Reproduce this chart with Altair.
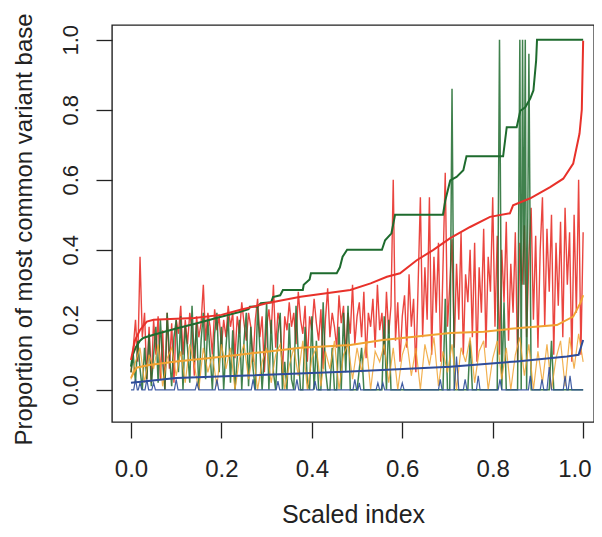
import altair as alt
import pandas as pd

# ---------------- data ----------------
# noisy red series (step 0.005)
red_noise_y = [
    0.05, 0.12, 0.20, 0.08, 0.38, 0.15, 0.22, 0.03, 0.18, 0.02, 0.20,
    0.10, 0.21, 0.03, 0.17, 0.00, 0.22, 0.06, 0.19, 0.02, 0.20,
    0.16, 0.24, 0.10, 0.20, 0.13, 0.22, 0.17, 0.04, 0.21, 0.15,
    0.19, 0.30, 0.14, 0.22, 0.18, 0.10, 0.23, 0.17, 0.21, 0.12,
    0.20, 0.15, 0.24, 0.18, 0.22, 0.09, 0.21, 0.16, 0.25, 0.19,
    0.14, 0.22, 0.18, 0.08, 0.20, 0.26, 0.15, 0.21, 0.05, 0.18,
    0.23, 0.16, 0.30, 0.12, 0.22, 0.19, 0.04, 0.21, 0.17, 0.25,
    0.18, 0.22, 0.13, 0.28, 0.20, 0.16, 0.24, 0.08, 0.21, 0.17,
    0.26, 0.19, 0.14, 0.23, 0.06, 0.20, 0.29, 0.15, 0.22, 0.18,
    0.12, 0.27, 0.19, 0.24, 0.10, 0.22, 0.16, 0.30, 0.13, 0.21,
    0.25, 0.15, 0.28, 0.09, 0.22, 0.18, 0.26, 0.12, 0.30, 0.17,
    0.22, 0.10, 0.28, 0.16, 0.24, 0.60, 0.14, 0.25, 0.08, 0.21,
    0.27, 0.12, 0.33, 0.18, 0.26, 0.05, 0.30, 0.55, 0.15, 0.35,
    0.20, 0.55, 0.10, 0.38, 0.22, 0.42, 0.08, 0.35, 0.62, 0.18,
    0.30, 0.43, 0.12, 0.36, 0.20, 0.45, 0.10, 0.33, 0.25, 0.40,
    0.15, 0.42, 0.08, 0.35, 0.22, 0.46, 0.12, 0.38, 0.28, 0.55,
    0.18, 0.44, 0.10, 0.40, 0.25, 0.48, 0.14, 0.36, 0.22, 0.45,
    0.08, 0.42, 0.30, 0.47, 0.15, 0.38, 0.52, 0.20, 0.44, 0.12,
    0.40, 0.55, 0.18, 0.46, 0.28, 0.50, 0.10, 0.42, 0.24, 0.48,
    0.15, 0.52, 0.30, 0.45, 0.08, 0.50, 0.22, 0.60, 0.10, 0.45,
]
red_noise_x = [round(i * 0.005, 3) for i in range(len(red_noise_y))]

# noisy green series: dense on the left, isolated spikes on the right
green_dense_y = [
    0.05, 0.10, 0.02, 0.14, 0.06, 0.00, 0.12, 0.03, 0.16, 0.01, 0.10,
    0.18, 0.02, 0.20, 0.08, 0.00, 0.22, 0.10, 0.01, 0.15, 0.20,
    0.05, 0.21, 0.00, 0.18, 0.12, 0.02, 0.24, 0.08, 0.19, 0.00,
    0.14, 0.22, 0.03, 0.20, 0.10, 0.00, 0.16, 0.22, 0.05, 0.18,
    0.00, 0.12, 0.21, 0.02, 0.17, 0.00, 0.09, 0.20, 0.00, 0.14,
    0.22, 0.01, 0.18, 0.06, 0.00, 0.24, 0.12, 0.00, 0.10, 0.25,
    0.00, 0.20, 0.05, 0.00, 0.16, 0.22, 0.00, 0.08, 0.00, 0.19,
    0.03, 0.00, 0.24, 0.10, 0.00, 0.00, 0.18, 0.02, 0.00, 0.21,
    0.00, 0.14, 0.00, 0.00, 0.25, 0.06, 0.00, 0.00, 0.12, 0.00,
]
green_dense_x = [round(i * 0.005, 3) for i in range(len(green_dense_y))]
green_spike_x = [0.455, 0.46, 0.465, 0.47, 0.475, 0.48, 0.485, 0.50, 0.51, 0.515,
                 0.555, 0.56, 0.565, 0.57, 0.575, 0.69, 0.695, 0.70, 0.705, 0.71,
                 0.715, 0.745, 0.75, 0.755, 0.81, 0.815, 0.82, 0.825, 0.83, 0.855,
                 0.86, 0.863, 0.866, 0.869, 0.872, 0.875, 0.88, 0.885, 0.925, 0.93,
                 0.935, 1.0]
green_spike_y = [0.00, 0.18, 0.00, 0.22, 0.05, 0.24, 0.00, 0.00, 0.12, 0.00,
                 0.00, 0.21, 0.00, 0.20, 0.00, 0.00, 0.26, 0.00, 0.00, 0.86,
                 0.00, 0.00, 0.14, 0.00, 0.00, 1.00, 0.00, 0.25, 0.00, 0.00,
                 1.00, 0.00, 1.00, 0.30, 1.00, 0.00, 0.96, 0.00, 0.00, 0.14,
                 0.00, 0.00]
green_noise_x = green_dense_x + green_spike_x
green_noise_y = green_dense_y + green_spike_y

# noisy orange series (step 0.01)
orange_noise_y = [
    0.03, 0.08, 0.12, 0.02, 0.10, 0.06, 0.13, 0.01, 0.09, 0.12, 0.04,
    0.11, 0.02, 0.13, 0.07, 0.00, 0.12, 0.05, 0.10, 0.01, 0.13,
    0.06, 0.12, 0.00, 0.09, 0.13, 0.03, 0.11, 0.00, 0.08, 0.12,
    0.02, 0.10, 0.13, 0.00, 0.07, 0.12, 0.04, 0.14, 0.00, 0.09,
    0.12, 0.01, 0.11, 0.06, 0.14, 0.00, 0.10, 0.13, 0.03, 0.12,
    0.05, 0.14, 0.00, 0.11, 0.08, 0.13, 0.02, 0.12, 0.00, 0.10,
    0.14, 0.04, 0.12, 0.00, 0.13, 0.07, 0.15, 0.01, 0.11, 0.05,
    0.13, 0.00, 0.12, 0.08, 0.15, 0.02, 0.11, 0.14, 0.00, 0.09,
    0.14, 0.03, 0.12, 0.00, 0.10, 0.15, 0.04, 0.13, 0.00, 0.11,
    0.02, 0.13, 0.00, 0.09, 0.14, 0.01, 0.15, 0.06, 0.16, 0.08,
]
orange_noise_x = [round(i * 0.01, 3) for i in range(len(orange_noise_y))]

# noisy blue series: zero with small spikes
blue_noise_x = [0.0, 0.006, 0.01, 0.014, 0.016, 0.02, 0.024, 0.031, 0.035, 0.039,
                0.046, 0.05, 0.054, 0.096, 0.10, 0.104, 0.142, 0.146, 0.15, 0.186,
                0.19, 0.194, 0.266, 0.27, 0.274, 0.321, 0.325, 0.329, 0.363, 0.367,
                0.371, 0.403, 0.407, 0.411, 0.491, 0.495, 0.499, 0.502, 0.505, 0.508,
                0.542, 0.546, 0.55, 0.553, 0.557, 0.561, 0.596, 0.60, 0.604, 0.68,
                0.684, 0.688, 0.715, 0.72, 0.725, 0.735, 0.739, 0.743, 0.764, 0.768,
                0.772, 0.812, 0.816, 0.82, 0.879, 0.883, 0.887, 0.905, 0.909, 0.913,
                0.92, 0.925, 0.93, 0.956, 0.96, 0.964, 0.967, 0.971, 0.975, 1.0]
blue_noise_y = [0.0, 0.0, 0.03, 0.0, 0.0, 0.02, 0.0, 0.0, 0.03, 0.0,
                0.0, 0.02, 0.0, 0.0, 0.03, 0.0, 0.0, 0.02, 0.0, 0.0,
                0.03, 0.0, 0.0, 0.03, 0.0, 0.0, 0.025, 0.0, 0.0, 0.03,
                0.0, 0.0, 0.025, 0.0, 0.0, 0.03, 0.0, 0.0, 0.02, 0.0,
                0.0, 0.02, 0.0, 0.0, 0.02, 0.0, 0.0, 0.02, 0.0, 0.0,
                0.03, 0.0, 0.0, 0.095, 0.0, 0.0, 0.03, 0.0, 0.0, 0.04,
                0.0, 0.0, 0.03, 0.0, 0.0, 0.04, 0.0, 0.0, 0.03, 0.0,
                0.0, 0.065, 0.0, 0.0, 0.04, 0.0, 0.0, 0.04, 0.0, 0.0]

# smooth (sorted) curves
green_line_x = [0.0, 0.004, 0.01, 0.02, 0.027, 0.05, 0.10, 0.146, 0.197, 0.24, 0.26, 0.263,
                0.28, 0.287, 0.31, 0.314, 0.33, 0.336, 0.38, 0.382, 0.395, 0.398, 0.455,
                0.462, 0.468, 0.478, 0.555, 0.562, 0.576, 0.584, 0.69, 0.695, 0.706,
                0.72, 0.735, 0.742, 0.823, 0.831, 0.853, 0.861, 0.872, 0.883, 0.89,
                0.896, 0.898, 1.0]
green_line_y = [0.066, 0.10, 0.12, 0.14, 0.148, 0.157, 0.175, 0.19, 0.208, 0.222, 0.23, 0.237,
                0.238, 0.247, 0.25, 0.265, 0.27, 0.285, 0.285, 0.30, 0.315, 0.333, 0.333,
                0.35, 0.38, 0.40, 0.40, 0.427, 0.447, 0.50, 0.50, 0.54, 0.598,
                0.608, 0.627, 0.667, 0.667, 0.75, 0.75, 0.797, 0.807, 0.832, 0.855,
                0.94, 1.0, 1.0]
red_line_x = [0.0, 0.009, 0.02, 0.035, 0.05, 0.10, 0.14, 0.2, 0.24, 0.3, 0.375, 0.485, 0.53,
              0.566, 0.595, 0.632, 0.668, 0.706, 0.75, 0.794, 0.838, 0.845, 0.883, 0.927,
              0.956, 0.978, 0.992, 0.997, 1.0]
red_line_y = [0.085, 0.142, 0.171, 0.195, 0.2, 0.203, 0.205, 0.214, 0.228, 0.247, 0.266, 0.285,
              0.304, 0.323, 0.333, 0.37, 0.399, 0.433, 0.465, 0.494, 0.504, 0.527, 0.547,
              0.579, 0.603, 0.646, 0.732, 0.80, 0.997]
orange_line_x = [0.0, 0.012, 0.04, 0.1, 0.175, 0.24, 0.3, 0.375, 0.485, 0.557, 0.632, 0.706,
                 0.78, 0.853, 0.942, 0.978, 0.994, 1.0]
orange_line_y = [0.034, 0.063, 0.071, 0.081, 0.091, 0.1, 0.109, 0.12, 0.128, 0.142, 0.152,
                 0.162, 0.166, 0.176, 0.185, 0.209, 0.248, 0.27]
blue_line_x = [0.0, 0.027, 0.1, 0.24, 0.485, 0.706, 0.853, 0.964, 0.99, 1.0]
blue_line_y = [0.02, 0.024, 0.034, 0.04, 0.052, 0.066, 0.081, 0.095, 0.1, 0.142]

y_ticks = [0.0, 0.2, 0.4, 0.6, 0.8, 1.0]
x_ticks = [0.0, 0.2, 0.4, 0.6, 0.8, 1.0]

RED = "#E8312A"
GREEN = "#1E6B2E"
ORANGE = "#F0A332"
BLUE = "#2E4C9A"

# ---------------- chart ----------------
FONT = "Liberation Sans"
xs = alt.Scale(domain=[-0.042, 1.024], nice=False, zero=False)
ys = alt.Scale(domain=[-0.092, 1.042], nice=False, zero=False)

x_axis = alt.Axis(values=x_ticks, format=".1f", title="Scaled index", grid=False,
                  domain=False, ticks=True, tickSize=16, tickWidth=1.3, tickColor="#222",
                  labelFontSize=24, labelFont=FONT, labelColor="#222", labelPadding=19,
                  labelFlush=15, labelFlushOffset=8,
                  titleFontSize=25, titleFont=FONT, titleFontWeight="normal", titleColor="#222",
                  titleBaseline="alphabetic", titleY=100)
y_axis = alt.Axis(values=y_ticks, format=".1f", title="Proportion of most common variant base",
                  grid=False, domain=False, ticks=True, tickSize=16, tickWidth=1.3,
                  tickColor="#222", labelFontSize=22, labelFont=FONT, labelColor="#222",
                  labelAngle=270, labelAlign="center", labelBaseline="bottom", labelPadding=14,
                  titleFontSize=24, titleFont=FONT, titleFontWeight="normal", titleColor="#222",
                  titleBaseline="alphabetic", titleX=-81, titleY=204, titleAngle=270)


def layer(xv, yv, color, width, opacity):
    df = pd.DataFrame({"x": xv, "y": yv})
    return alt.Chart(df).mark_line(color=color, strokeWidth=width, opacity=opacity,
                                   clip=True).encode(
        x=alt.X("x:Q", scale=xs, axis=x_axis),
        y=alt.Y("y:Q", scale=ys, axis=y_axis),
        order="x:Q",
    )


chart = alt.layer(
    layer(red_noise_x, red_noise_y, RED, 1.4, 0.9),
    layer(green_noise_x, green_noise_y, GREEN, 1.5, 0.85),
    layer(orange_noise_x, orange_noise_y, ORANGE, 1.2, 0.85),
    layer(blue_noise_x, blue_noise_y, BLUE, 1.2, 0.9),
    layer(green_line_x, green_line_y, GREEN, 2.0, 1.0),
    layer(red_line_x, red_line_y, RED, 2.0, 1.0),
    layer(orange_line_x, orange_line_y, ORANGE, 2.0, 1.0),
    layer(blue_line_x, blue_line_y, BLUE, 2.0, 1.0),
).properties(
    width=482, height=397,
    autosize=alt.AutoSizeParams(type="none"),
    padding={"left": 104, "top": 17, "right": 0, "bottom": 107},
).configure_view(stroke="#222", strokeWidth=1.4, fill="white")

chart.save("out.html", embed_options={"renderer": "svg", "actions": False})
